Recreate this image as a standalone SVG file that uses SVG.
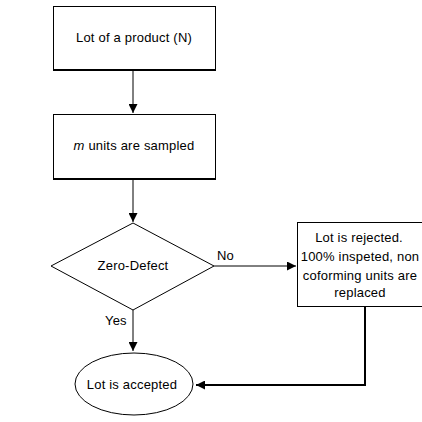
<svg xmlns="http://www.w3.org/2000/svg" width="422" height="422" viewBox="0 0 422 422">
<style>
text{font-family:"Liberation Sans",Arial,sans-serif;font-size:13px;letter-spacing:0.2px;fill:#000}
.box{fill:#fff;stroke:#000;stroke-width:1}
.ln{fill:none;stroke:#000;stroke-width:1}
</style>
<defs>
<marker id="ah" viewBox="0 0 10 10" refX="10" refY="5" markerWidth="9" markerHeight="9" markerUnits="userSpaceOnUse" orient="auto">
<path d="M0,0 L10,5 L0,10 z" fill="#000"/>
</marker>
</defs>
<rect width="422" height="422" fill="#fff"/>
<g id="connectors">
<line class="ln" x1="133" y1="71" x2="133" y2="113" marker-end="url(#ah)"/>
<line class="ln" x1="133" y1="180" x2="133" y2="222" marker-end="url(#ah)"/>
<line class="ln" x1="214" y1="266" x2="296" y2="266" marker-end="url(#ah)"/>
<line class="ln" x1="133" y1="310" x2="133" y2="351" marker-end="url(#ah)"/>
<polyline class="ln" style="stroke-width:2" points="365,307 365,385 196,385" marker-end="url(#ah)"/>
<text x="217" y="260">No</text>
<text x="105" y="325">Yes</text>
</g>
<g id="node-lot">
<rect class="box" x="53.5" y="6.5" width="162" height="63"/>
<line class="ln" style="stroke-width:2" x1="53" y1="70" x2="216" y2="70"/>
<text x="134" y="42" text-anchor="middle">Lot of a product (N)</text>
</g>
<g id="node-sampled">
<rect class="box" x="53.5" y="114.5" width="162" height="64"/>
<line class="ln" style="stroke-width:2" x1="53" y1="179" x2="216" y2="179"/>
<text x="134" y="150" text-anchor="middle"><tspan font-style="italic">m</tspan> units are sampled</text>
</g>
<g id="node-decision">
<polygon class="box" points="133,223 214,266 133,310 51,266"/>
<text x="133" y="270" text-anchor="middle">Zero-Defect</text>
</g>
<g id="node-rejected">
<rect class="box" x="297.5" y="222.5" width="130" height="84"/>
<text x="359" y="242" text-anchor="middle">Lot is rejected.</text>
<text x="360" y="261" text-anchor="middle">100% inspeted, non</text>
<text x="360" y="280" text-anchor="middle">coforming units are</text>
<text x="360" y="297" text-anchor="middle">replaced</text>
</g>
<g id="node-accepted">
<ellipse class="box" cx="134" cy="384" rx="59" ry="31"/>
<text x="132" y="389" text-anchor="middle">Lot is accepted</text>
</g>
</svg>
